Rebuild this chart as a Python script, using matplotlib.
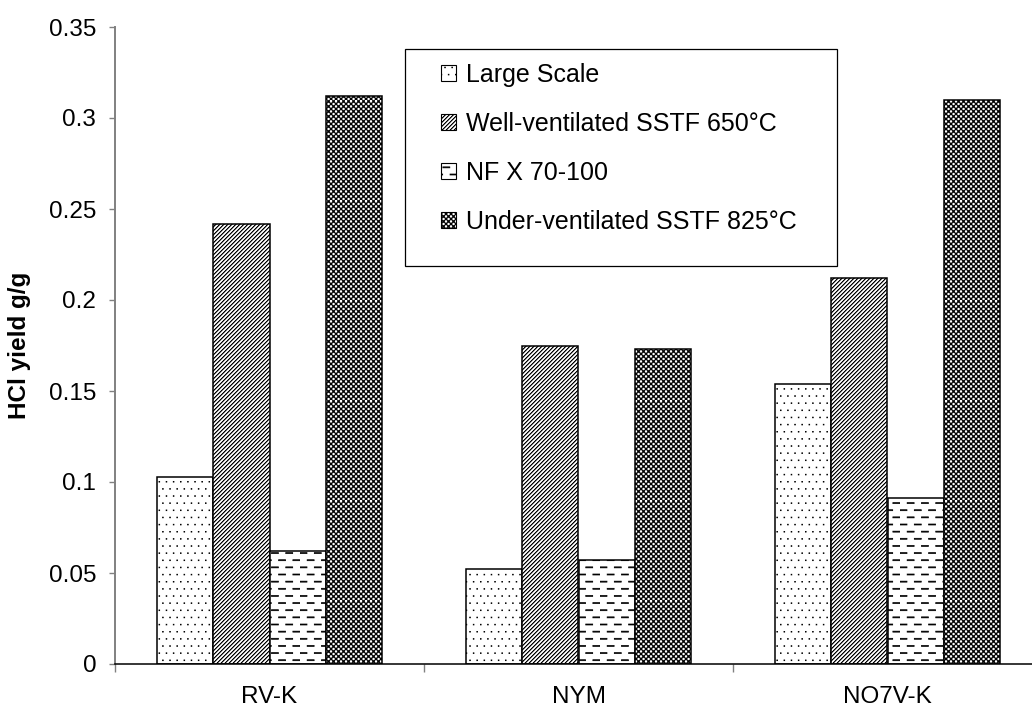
import matplotlib
matplotlib.use('Agg')
import matplotlib.pyplot as plt
import matplotlib.hatch as mhatch
from matplotlib.path import Path
from matplotlib.patches import Rectangle, Patch
import numpy as np

# Data
categories = ['RV-K', 'NYM', 'NO7V-K']
series = ['Large Scale', 'Well-ventilated SSTF 650°C', 'NF X 70-100',
          'Under-ventilated SSTF 825°C']
large_scale = [0.103, 0.052, 0.154]
well_vent = [0.242, 0.175, 0.212]
nf_x70 = [0.062, 0.057, 0.091]
under_vent = [0.312, 0.173, 0.310]
ytick_values = [0, 0.05, 0.1, 0.15, 0.2, 0.25, 0.3, 0.35]
ytick_labels = ['0', '0.05', '0.1', '0.15', '0.2', '0.25', '0.3', '0.35']


# Excel-like fill patterns as custom hatches (one tile = 1 inch)
class PolyHatch(mhatch.HatchPatternBase):
    char = None

    def __init__(self, hatch, density):
        self.polys = self.make() if self.char in hatch else []
        self.num_vertices = 5 * len(self.polys)

    def set_vertices_and_codes(self, vertices, codes):
        for i, pts in enumerate(self.polys):
            vertices[5 * i:5 * i + 4] = pts
            vertices[5 * i + 4] = pts[0]
            codes[5 * i] = Path.MOVETO
            codes[5 * i + 1:5 * i + 4] = Path.LINETO
            codes[5 * i + 4] = Path.CLOSEPOLY


def box(x, y, w, h):
    return [(x, y), (x + w, y), (x + w, y + h), (x, y + h)]


class Dots(PolyHatch):
    char = '.'

    def make(self):
        n, d = 14, 0.008
        return [box((i + 0.5 * (j % 2) + 0.25) / n, (j + 0.5) / n, d, d)
                for j in range(n) for i in range(n)]


class Stripes(PolyHatch):
    char = '/'

    def make(self):
        n, w = 25, 0.004
        out = []
        for k in range(-n, n + 1):
            a = k / n
            out.append([(a, 0), (a + w, 0), (a + w + 1, 1), (a + 1, 1)])
        return out


class Dashes(PolyHatch):
    char = '-'

    def make(self):
        rows, per_row, ln, th = 14, 7, 0.07, 0.01
        return [box((i + 0.5 * (j % 2)) / per_row, (j + 0.5) / rows, ln, th)
                for j in range(rows) for i in range(per_row)]


class Checker(PolyHatch):
    char = '+'

    def make(self):
        p, s = 0.05, 0.021
        out = []
        for j in range(20):
            for i in range(20):
                out.append(box(i * p, j * p, s, s))
                out.append(box(i * p + p / 2, j * p + p / 2, s, s))
        return out


mhatch._hatch_types = [Dots, Stripes, Dashes, Checker]

plt.rcParams['font.family'] = ['Liberation Sans', 'DejaVu Sans']
plt.rcParams['font.size'] = 17.5
plt.rcParams['hatch.linewidth'] = 0.5

fig = plt.figure(figsize=(10.32, 7.11), dpi=100)
ax = fig.add_axes([115 / 1032, 47 / 711, 927 / 1032, 637 / 711])

values = [large_scale, well_vent, nf_x70, under_vent]
hatches = ['.', '/', '-', '+']
bw = 0.182
x = np.arange(len(categories)) + 0.5
for k, (vals, h) in enumerate(zip(values, hatches)):
    ax.bar(x + (k - 1.5) * bw, vals, bw, facecolor='white', edgecolor='black',
           linewidth=1.1, hatch=h, zorder=2)

ax.set_xlim(0, 3)
ax.set_ylim(0, 0.35)
ax.set_yticks(ytick_values)
ax.set_yticklabels(ytick_labels)
ax.set_xticks([0, 1, 2, 3])
ax.set_xticklabels([])
ax.set_xticks(x, minor=True)
ax.set_xticklabels(categories, minor=True)
ax.tick_params(axis='x', which='major', direction='out', length=6,
               color='#808080', width=1)
ax.tick_params(axis='x', which='minor', length=0, pad=16)
ax.tick_params(axis='y', direction='out', length=4.5, color='#808080',
               width=1, pad=9)

for s in ['top', 'right']:
    ax.spines[s].set_visible(False)
ax.spines['left'].set_color('#808080')
ax.spines['left'].set_linewidth(1.4)
ax.spines['bottom'].set_color('black')
ax.spines['bottom'].set_linewidth(1.1)

ax.set_ylabel('HCl yield g/g', fontweight='bold')
ax.yaxis.set_label_coords(-0.0906, 0.5)

# Legend box
frame = Rectangle((405 / 1032, 1 - 266 / 711), 432 / 1032, 217 / 711,
                  transform=fig.transFigure, facecolor='white',
                  edgecolor='black', linewidth=0.9, zorder=4, clip_on=False)
ax.add_patch(frame)
handles = [Patch(facecolor='white', edgecolor='black', linewidth=0.8, hatch=h)
           for h in hatches]
leg = ax.legend(handles, series, loc='upper left', fontsize=18,
                bbox_to_anchor=(441 / 1032, 1 - 63 / 711),
                bbox_transform=fig.transFigure, frameon=False, borderpad=0,
                borderaxespad=0, handlelength=0.6, handleheight=0.6,
                handletextpad=0.4, labelspacing=1.0)
leg.set_zorder(5)

fig.savefig('out.png', dpi=100)
